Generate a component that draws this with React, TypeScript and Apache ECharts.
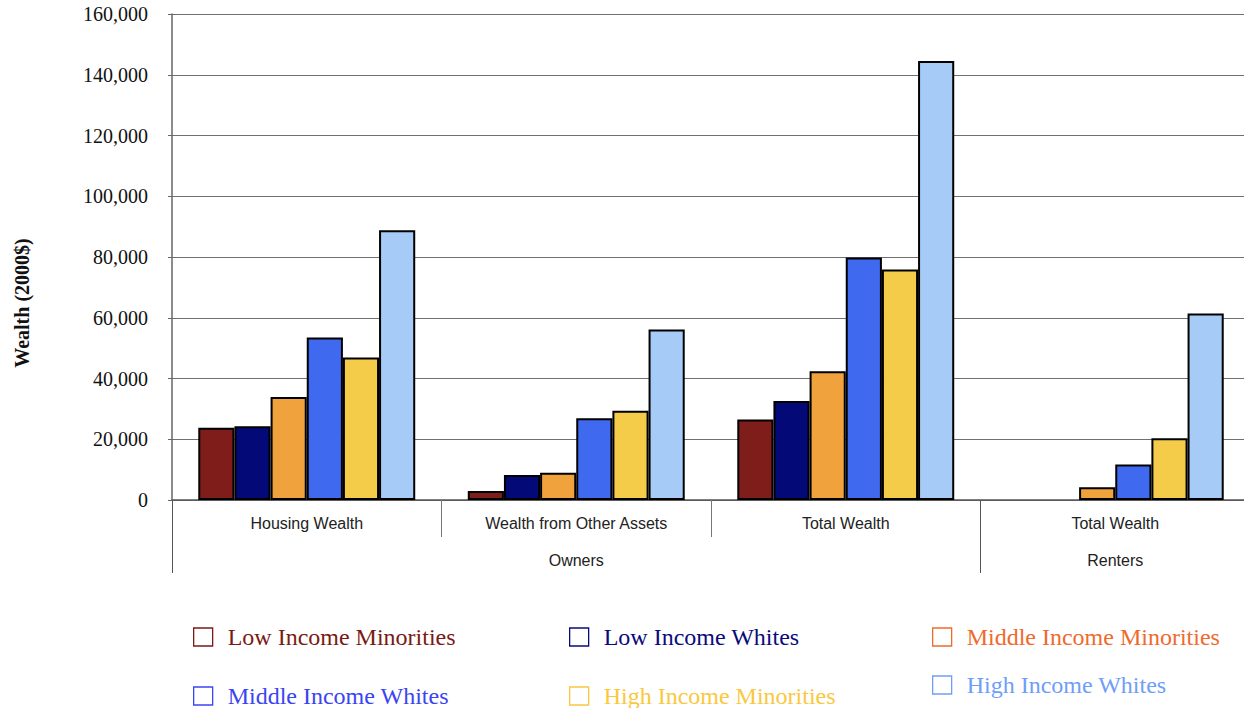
import React, { useEffect, useRef } from "react";
import * as echarts from "echarts";

// ---- data ----
const categories = ["Housing Wealth", "Wealth from Other Assets", "Total Wealth", "Total Wealth"];
const groupLabels = ["", "Owners", "", "Renters"];
const seriesNames = [
  "Low Income Minorities",
  "Low Income Whites",
  "Middle Income Minorities",
  "Middle Income Whites",
  "High Income Minorities",
  "High Income Whites",
];
const lowIncomeMinorities = [23800, 3000, 26500, 0];
const lowIncomeWhites = [24300, 8200, 32600, 0];
const middleIncomeMinorities = [33900, 9000, 42400, 4200];
const middleIncomeWhites = [53500, 26900, 79800, 11700];
const highIncomeMinorities = [46900, 29400, 75900, 20300];
const highIncomeWhites = [88800, 56100, 144500, 61400];
const yMin = 0;
const yMax = 160000;
const yStep = 20000;
const yAxisTitle = "Wealth (2000$)";

// ---- styles ----
const barColors = ["#7e1d1a", "#030a78", "#f0a23c", "#3f6af0", "#f4cc4a", "#a6cbf6"];
const legendTextColors = ["#7a1a14", "#0a0a7a", "#f06a2c", "#3a44f2", "#f9c83e", "#6f9ef8"];
const legendPos = [
  { left: 193, top: 625 },
  { left: 569, top: 625 },
  { left: 932, top: 625 },
  { left: 193, top: 684 },
  { left: 569, top: 684 },
  { left: 932, top: 673 },
];

const seriesData = [
  lowIncomeMinorities,
  lowIncomeWhites,
  middleIncomeMinorities,
  middleIncomeWhites,
  highIncomeMinorities,
  highIncomeWhites,
];

export default function App() {
  const ref = useRef<HTMLDivElement>(null);
  useEffect(() => {
    if (!ref.current) return;
    const chart = echarts.init(ref.current, null, { renderer: "svg" });
    const serif = "'Liberation Serif', 'Times New Roman', serif";
    const sans = "'Liberation Sans', Arial, sans-serif";
    chart.setOption({
      animation: false,
      backgroundColor: "#ffffff",
      grid: { left: 172, top: 14, right: 0, bottom: 208, containLabel: false },
      legend: seriesNames.map((name, i) => ({
        left: legendPos[i].left,
        top: legendPos[i].top,
        padding: 0,
        selectedMode: false,
        itemWidth: 19,
        itemHeight: 18,
        icon: "rect",
        data: [
          {
            name,
            itemStyle: { color: "transparent", borderColor: legendTextColors[i], borderWidth: 1.3 },
            textStyle: { color: legendTextColors[i] },
          },
        ],
        textStyle: {
          fontFamily: serif,
          fontSize: 24,
          lineHeight: 24,
          padding: [0, 0, 0, 10],
          color: legendTextColors[i],
        },
      })),
      xAxis: [
        {
          type: "category",
          data: categories,
          position: "bottom",
          axisLine: { show: true, lineStyle: { color: "#555", width: 1.5 } },
          axisTick: {
            show: true,
            length: 37,
            interval: (i: number) => i === 1 || i === 2,
            lineStyle: { color: "#777", width: 1 },
          },
          axisLabel: { interval: 0, margin: 15, fontFamily: sans, fontSize: 16, color: "#222" },
          splitLine: { show: false },
        },
        {
          type: "category",
          data: groupLabels,
          position: "bottom",
          offset: 0,
          axisLine: { show: false },
          axisTick: {
            show: true,
            length: 73,
            interval: (i: number) => i === 0 || i === 3,
            lineStyle: { color: "#555", width: 1 },
          },
          axisLabel: { interval: 0, margin: 52, fontFamily: sans, fontSize: 16, color: "#222" },
          splitLine: { show: false },
        },
      ],
      yAxis: {
        type: "value",
        min: yMin,
        max: yMax,
        interval: yStep,
        axisLine: { show: true, lineStyle: { color: "#666", width: 1.5 } },
        axisTick: { show: true, length: 4, lineStyle: { color: "#666" } },
        axisLabel: { margin: 24, fontFamily: serif, fontSize: 20, color: "#111" },
        splitLine: { show: true, lineStyle: { color: "#707070", width: 1 } },
      },
      graphic: [
        {
          type: "text",
          x: 22,
          y: 303,
          rotation: Math.PI / 2,
          style: {
            text: yAxisTitle,
            fontFamily: serif,
            fontSize: 20,
            fontWeight: "bold",
            fill: "#111",
            textAlign: "center",
            textVerticalAlign: "middle",
          },
        },
      ],
      series: seriesNames.map((name, i) => ({
        name,
        type: "bar",
        data: seriesData[i].map((v) =>
          v === 0 ? { value: v, itemStyle: { borderWidth: 0 } } : v
        ),
        barGap: "0%",
        barCategoryGap: "19.5%",
        itemStyle: { color: barColors[i], borderColor: "#000", borderWidth: 2 },
      })),
    });
    return () => chart.dispose();
  }, []);
  return (
    <div
      ref={ref}
      style={{ position: "fixed", left: 0, top: 0, width: 1250, height: 708 }}
    />
  );
}
